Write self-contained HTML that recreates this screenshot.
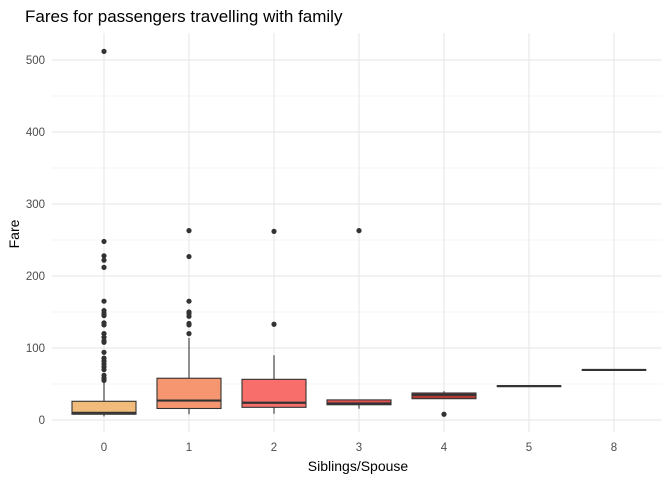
<!DOCTYPE html>
<html><head><meta charset="utf-8"><style>
body{margin:0;background:#fff;font-family:"Liberation Sans",sans-serif;}
svg text{font-family:"Liberation Sans",sans-serif;}
</style></head><body>
<svg id="chart" width="672" height="480" xmlns="http://www.w3.org/2000/svg">
<text x="25" y="22" font-size="17" fill="#000">Fares for passengers travelling with family</text>
<g id="grid"></g><g id="marks"></g><g id="axes"></g>
<text x="358" y="471" font-size="14" text-anchor="middle" fill="#000">Siblings/Spouse</text>
<text transform="translate(19,234) rotate(-90)" font-size="14" text-anchor="middle" fill="#000">Fare</text>
</svg>
<script>
const categories=["0","1","2","3","4","5","8"];
const q1=[8,16,17.6,21.2,29.6,47,69.5];
const medians=[10,27,24,23,35,47,69.5];
const q3=[26,58,56.5,27.9,37.5,47,69.5];
const whiskerLow=[5,8,8.7,15.7,29.6,47,69.5];
const whiskerHigh=[53,114,90,27.9,40,47,69.5];
const outliers=[
 [512,248,228,222,212,165,152,148,145,135,132,120,115,110,108,94,86,82,78,74,70,62,58,55],
 [263,227,165,150,148,144,134,132,120],
 [262,133],
 [263],
 [8],[],[]
];
const fills=["#f1bc7b","#f69671","#f86e6a","#e7524e","#b13a36","#7a2e2c","#5a2b2a"];
const yTicks=[0,100,200,300,400,500];
const yMinor=[50,150,250,350,450];
const ns="http://www.w3.org/2000/svg";
const y=v=>420-v*0.72;
const x=i=>104+i*85;
function mk(tag,attrs,parent){const e=document.createElementNS(ns,tag);for(const k in attrs)e.setAttribute(k,attrs[k]);parent.appendChild(e);return e;}
const grid=document.getElementById('grid'),marks=document.getElementById('marks'),axes=document.getElementById('axes');
yMinor.forEach(v=>{const l=mk('line',{x1:52,x2:662,y1:y(v),y2:y(v),stroke:'#f0f0f0','stroke-width':0.7},grid);

});
yTicks.forEach(v=>{const l=mk('line',{x1:52,x2:662,y1:y(v),y2:y(v),stroke:'#e6e6e6','stroke-width':1},grid);


const t=mk('text',{x:45,y:y(v)+4,'font-size':11.5,'text-anchor':'end',fill:'#4d4d4d'},axes);t.textContent=v;

});
categories.forEach((c,i)=>{const l=mk('line',{x1:x(i),x2:x(i),y1:33,y2:432,stroke:'#e6e6e6','stroke-width':1},grid);


const t=mk('text',{x:x(i),y:451,'font-size':11.5,'text-anchor':'middle',fill:'#4d4d4d'},axes);t.textContent=c;


const g=mk('g',{},marks);


mk('line',{x1:x(i),x2:x(i),y1:y(whiskerLow[i]),y2:y(q1[i]),stroke:'#333','stroke-width':1.1},g);
mk('line',{x1:x(i),x2:x(i),y1:y(q3[i]),y2:y(whiskerHigh[i]),stroke:'#333','stroke-width':1.1},g);
const h=Math.max(y(q1[i])-y(q3[i]),0.01);
mk('rect',{x:x(i)-32,y:y(q3[i]),width:64,height:h,fill:fills[i],stroke:'#333','stroke-width':1.1},g);
mk('line',{x1:x(i)-32,x2:x(i)+32,y1:y(medians[i]),y2:y(medians[i]),stroke:'#333','stroke-width':2.2},g);
outliers[i].forEach(v=>{const p=mk('circle',{cx:x(i),cy:y(v),r:2.6,fill:'#333'},g);

});
});
</script>
</body></html>
